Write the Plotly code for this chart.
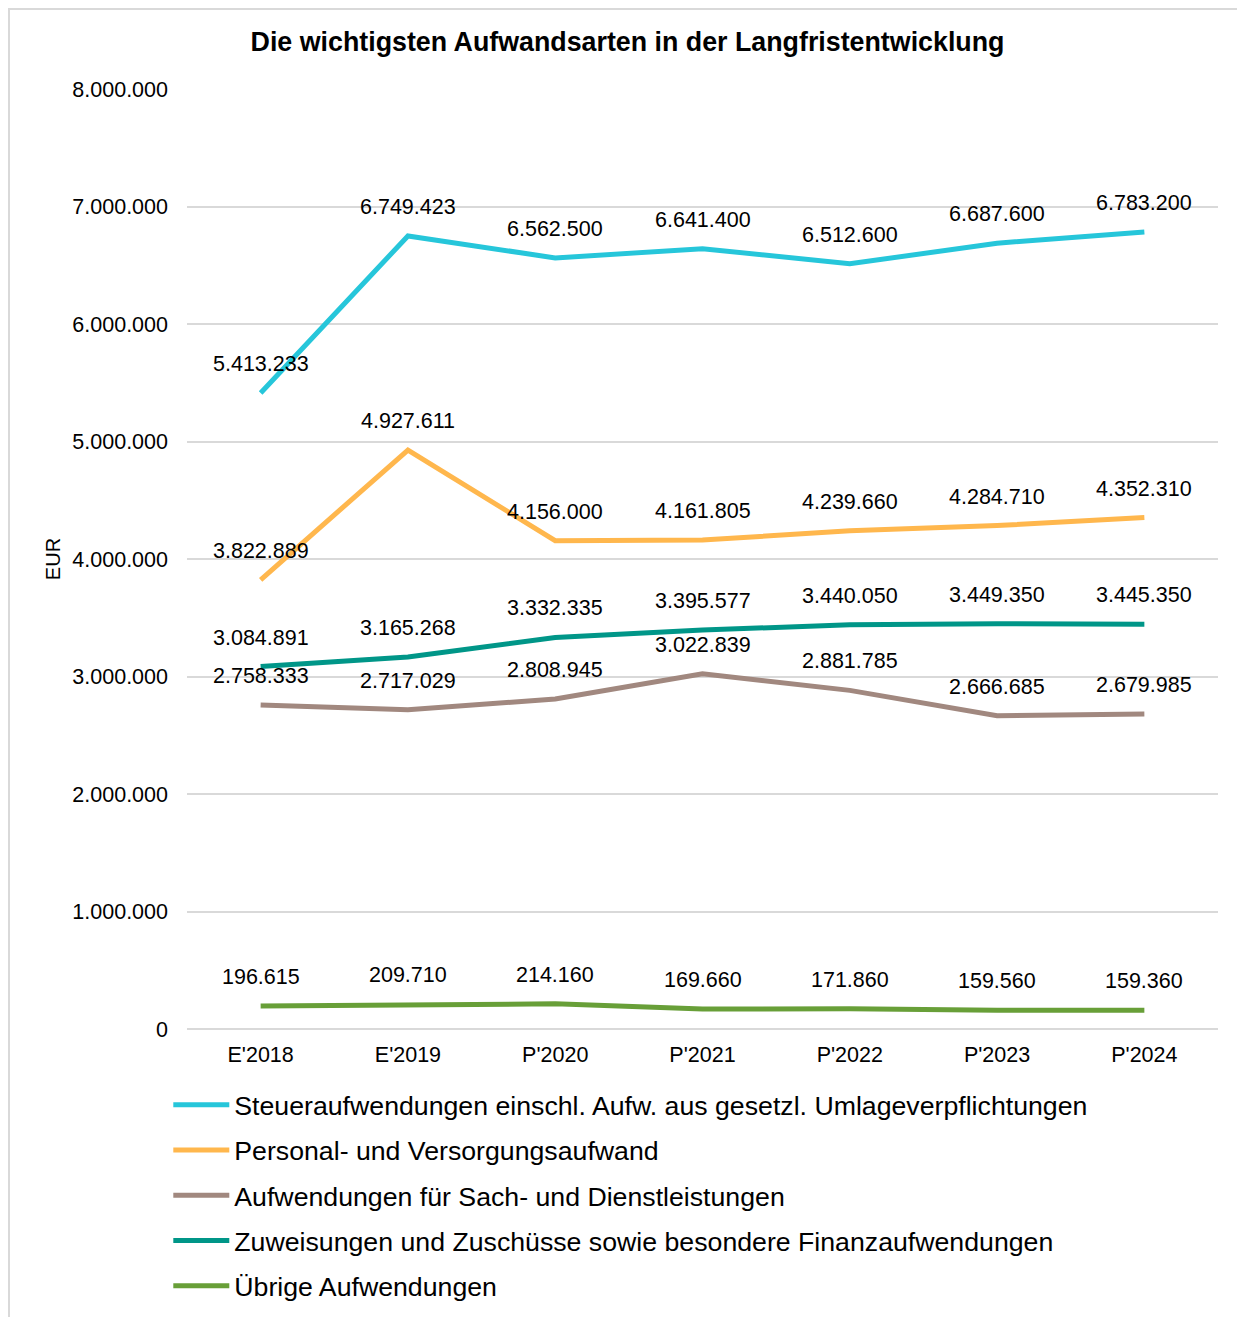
import plotly.graph_objects as go

categories = ["E'2018", "E'2019", "P'2020", "P'2021", "P'2022", "P'2023", "P'2024"]

series_names = [
    "Steueraufwendungen einschl. Aufw. aus gesetzl. Umlageverpflichtungen",
    "Personal- und Versorgungsaufwand",
    "Aufwendungen für Sach- und Dienstleistungen",
    "Zuweisungen und Zuschüsse sowie besondere Finanzaufwendungen",
    "Übrige Aufwendungen",
]

steuer = [5413233, 6749423, 6562500, 6641400, 6512600, 6687600, 6783200]
personal = [3822889, 4927611, 4156000, 4161805, 4239660, 4284710, 4352310]
sach = [2758333, 2717029, 2808945, 3022839, 2881785, 2666685, 2679985]
zuweisungen = [3084891, 3165268, 3332335, 3395577, 3440050, 3449350, 3445350]
uebrige = [196615, 209710, 214160, 169660, 171860, 159560, 159360]

y_ticks = [0, 1000000, 2000000, 3000000, 4000000, 5000000, 6000000, 7000000, 8000000]

colors = ["#26C6DA", "#FFB74D", "#A1887F", "#009688", "#689F38"]
series_values = [steuer, personal, sach, zuweisungen, uebrige]

FONT = "Liberation Sans, Arial, sans-serif"

# page = figure + 8px body margin; figure a bit taller than the viewport so the
# legend fits without pushing the plot margins
W, H = 1229, 1330
ML, MR, MT = 179, 19, 81
PLOT_BOTTOM = 1021
MB = H - PLOT_BOTTOM
PW = W - ML - MR
PH = PLOT_BOTTOM - MT


def de(v):
    return f"{v:,}".replace(",", ".")


fig = go.Figure()
for i, (name, vals, col) in enumerate(zip(series_names, series_values, colors)):
    fig.add_trace(go.Scatter(
        x=categories, y=vals, mode="lines", name=name,
        line=dict(color=col, width=5),
        legendgroup=f"g{i}",
        hoverinfo="skip",
    ))

annotations = []
for vals in series_values:
    for c, v in zip(categories, vals):
        annotations.append(dict(
            x=c, y=v, xref="x", yref="y", text=de(v), showarrow=False,
            yshift=29, font=dict(family=FONT, size=21.5, color="#000000"),
        ))

fig.update_layout(
    width=W, height=H,
    margin=dict(l=ML, r=MR, t=MT, b=MB),
    paper_bgcolor="white", plot_bgcolor="white",
    separators=",.",
    font=dict(family=FONT, color="#000000"),
    title=dict(
        text="<b>Die wichtigsten Aufwandsarten in der Langfristentwicklung</b>",
        xref="container", yref="container", x=619.5 / W, y=1 - 34 / H,
        xanchor="center", yanchor="middle",
        font=dict(family=FONT, size=26.8, color="#000000"),
    ),
    xaxis=dict(
        type="category", range=[-0.5, 6.5], showgrid=False, zeroline=False,
        showline=False, ticks="",
        tickfont=dict(family=FONT, size=21.5, color="#000000"),
        ticklabelstandoff=10,
    ),
    yaxis=dict(
        range=[0, 8000000], tickvals=y_ticks,
        ticktext=[de(t) for t in y_ticks],
        showgrid=True, gridcolor="#D9D9D9", gridwidth=2,
        zeroline=True, zerolinecolor="#D9D9D9", zerolinewidth=2,
        showline=False, ticks="",
        tickfont=dict(family=FONT, size=21.5, color="#000000"),
        ticklabelstandoff=18,
        title=dict(text="EUR", font=dict(family=FONT, size=20, color="#000000"), standoff=6),
    ),
    legend=dict(
        orientation="v", x=(160.3 - ML) / PW, y=-(1073 - PLOT_BOTTOM) / PH,
        xanchor="left", yanchor="top",
        font=dict(family=FONT, size=26.7, color="#000000"),
        tracegroupgap=7.5, itemwidth=56, bgcolor="rgba(0,0,0,0)",
    ),
    annotations=annotations,
    shapes=[dict(
        type="rect", xref="paper", yref="paper",
        x0=(1 - ML) / PW, x1=1.2, y0=-0.5, y1=(PLOT_BOTTOM - 1) / PH,
        line=dict(color="#D9D9D9", width=2), fillcolor="rgba(0,0,0,0)", layer="below",
    )],
)

fig.write_html("out.html")
